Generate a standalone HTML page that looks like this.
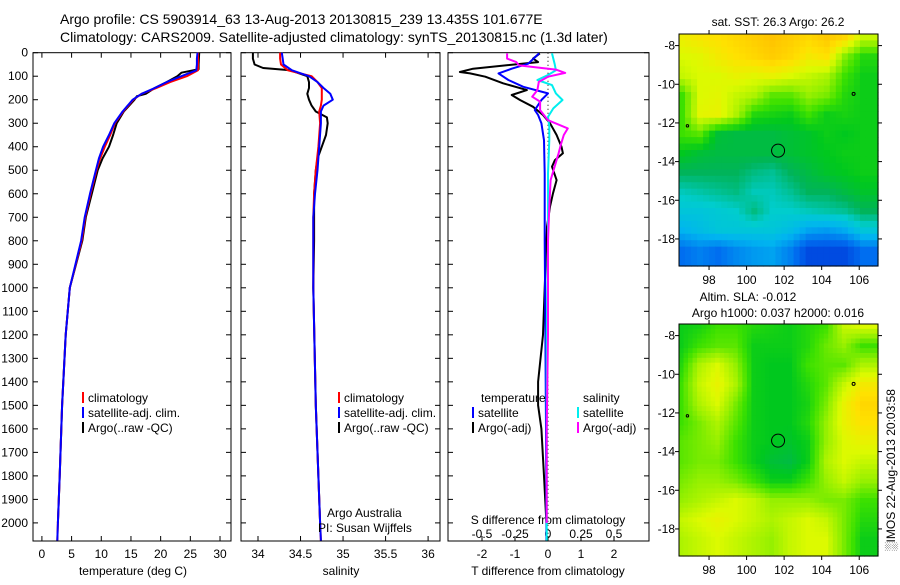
<!DOCTYPE html>
<html><head><meta charset="utf-8"><style>
body{margin:0;background:#fff}
svg text{font-family:"Liberation Sans",sans-serif;fill:#000}
</style></head><body>
<svg id="fig" width="900" height="580" xmlns="http://www.w3.org/2000/svg">
<rect width="900" height="580" fill="#fff"/>
<text x="60" y="24" font-size="14">Argo profile: CS 5903914_63 13-Aug-2013 20130815_239 13.435S 101.677E</text>
<text x="60" y="42" font-size="14">Climatology: CARS2009. Satellite-adjusted climatology: synTS_20130815.nc (1.3d later)</text>
<g id="g"></g>
</svg>
<script>
// ---- profile data ----
const depthT=[0,25,50,75,100,125,150,175,200,250,300,350,400,450,500,600,700,800,1000,1200,1500,1800,2000,2075];
const tempClim=[26.3,26.3,26.3,26.3,24.4,21.6,19.3,16.8,15.4,13.7,12.3,11.5,10.6,9.8,9.2,8.2,7.3,6.7,4.7,4.0,3.4,3.0,2.7,2.6];
const tempSat=[26.2,26.1,26.1,26.0,23.5,21.0,19.0,16.8,15.3,13.6,12.2,11.3,10.3,9.6,9.1,8.1,7.2,6.6,4.7,4.0,3.4,3.0,2.7,2.6];
const depthTA=[0,50,70,85,100,125,150,175,185,200,250,300,350,400,450,500,600,700,800,1000,1200,1500,1800,2000];
const tempArgo=[26.5,26.4,26.4,23.5,22.8,21.0,19.0,17.5,16.0,15.6,13.8,12.6,12.0,11.3,10.2,9.4,8.4,7.4,6.8,4.7,4.0,3.4,3.0,2.7];
const depthS=[0,25,50,75,100,125,150,175,200,225,250,300,400,500,600,700,1000,1500,2000,2075];
const salClim=[34.26,34.26,34.27,34.35,34.63,34.70,34.75,34.75,34.75,34.74,34.72,34.73,34.71,34.68,34.66,34.65,34.65,34.68,34.73,34.74];
const salSat=[34.28,34.29,34.30,34.40,34.60,34.70,34.77,34.85,34.88,34.77,34.74,34.74,34.72,34.70,34.67,34.65,34.65,34.68,34.73,34.74];
const depthSA=[0,25,50,65,75,100,125,150,175,200,225,250,275,300,350,400,450,500,600,700,800,1000,1500,2000];
const salArgo=[33.94,33.94,33.96,34.06,34.38,34.58,34.60,34.60,34.58,34.60,34.63,34.68,34.81,34.82,34.80,34.75,34.70,34.68,34.66,34.66,34.66,34.65,34.68,34.73];
// ---- difference data ----
const depthDT=[3,47,68,88,116,145,173,201,244,265,300,372,514,800,1200,1600,2000,2075];
const dTSat=[-0.27,-0.6,-1.1,-1.5,-1.2,-0.75,0,-0.2,-0.4,-0.3,-0.2,-0.12,-0.1,-0.1,-0.08,-0.06,-0.05,-0.05];
const depthDTA=[3,25,40,68,82,88,102,130,159,180,201,230,265,300,350,400,428,457,485,542,598,655,740,800,1000,1200,1400,1500,1600,1800,2000];
const dTArgo=[-0.25,-0.45,-0.3,-2.27,-2.67,-2.36,-1.9,-1.36,-0.64,-1.1,-0.85,-0.45,-0.15,0.06,0.26,0.41,0.45,0.21,0.12,0.26,0.15,0.06,-0.03,-0.05,-0.1,-0.15,-0.3,-0.3,-0.2,-0.12,-0.05];
const depthDS=[3,47,75,95,116,138,173,201,237,273,315,372,514,800,1200,1600,2000,2075];
const dSSat=[0.03,0.05,0.06,0,-0.08,0.03,0.06,0.11,0.04,0,0.01,0.01,0,0,-0.01,-0.01,-0.01,-0.01];
const depthDSA=[3,25,40,54,72,86,102,124,159,187,208,244,287,322,350,386,428,485,542,655,800,1200,1600,2000];
const dSArgo=[-0.31,-0.31,-0.24,-0.22,0.06,0.13,0,-0.07,-0.08,-0.12,-0.06,-0.06,0,0.15,0.12,0.1,0.08,0.05,0.02,0.01,0,0,-0.01,-0.01];
// ---- ticks ----
const depthTicks=[0,100,200,300,400,500,600,700,800,900,1000,1100,1200,1300,1400,1500,1600,1700,1800,1900,2000];
const tempTicks=[0,5,10,15,20,25,30];
const salTicks=[34,34.5,35,35.5,36];
const dTTicks=[-2,-1,0,1,2];
const dSTicks=[-0.5,-0.25,0,0.25,0.5];
const lonTicks=[98,100,102,104,106];
const latTicks=[-8,-10,-12,-14,-16,-18];
// ---- map fields (rows -8..-19 lat, cols 96.9..106.9 lon) ----
const sstField=[
[0.75,0.77,0.78,0.8,0.82,0.84,0.82,0.8,0.83,0.8,0.7],
[0.72,0.73,0.76,0.78,0.8,0.82,0.8,0.76,0.78,0.65,0.58],
[0.7,0.72,0.72,0.74,0.73,0.74,0.72,0.7,0.68,0.6,0.56],
[0.6,0.72,0.73,0.7,0.68,0.62,0.62,0.66,0.64,0.58,0.56],
[0.6,0.73,0.74,0.68,0.58,0.57,0.56,0.6,0.56,0.57,0.56],
[0.6,0.62,0.53,0.52,0.52,0.52,0.53,0.54,0.56,0.55,0.56],
[0.55,0.53,0.52,0.52,0.52,0.52,0.53,0.54,0.55,0.56,0.56],
[0.5,0.5,0.5,0.5,0.48,0.47,0.5,0.52,0.54,0.55,0.56],
[0.45,0.46,0.47,0.48,0.45,0.45,0.47,0.5,0.5,0.52,0.54],
[0.42,0.42,0.43,0.44,0.48,0.44,0.44,0.45,0.46,0.47,0.5],
[0.38,0.4,0.42,0.42,0.42,0.42,0.4,0.36,0.35,0.37,0.42],
[0.3,0.32,0.3,0.33,0.35,0.36,0.32,0.25,0.25,0.25,0.3]];
const slaField=[
[0.56,0.57,0.6,0.6,0.58,0.57,0.56,0.58,0.6,0.7,0.72],
[0.56,0.6,0.62,0.62,0.56,0.56,0.56,0.58,0.63,0.66,0.6],
[0.58,0.68,0.72,0.66,0.56,0.55,0.55,0.6,0.62,0.62,0.68],
[0.6,0.7,0.74,0.68,0.56,0.55,0.55,0.58,0.62,0.7,0.76],
[0.6,0.68,0.72,0.64,0.56,0.55,0.55,0.57,0.64,0.74,0.8],
[0.6,0.64,0.68,0.62,0.56,0.55,0.55,0.58,0.66,0.74,0.78],
[0.62,0.64,0.66,0.6,0.56,0.55,0.54,0.56,0.66,0.72,0.74],
[0.62,0.64,0.64,0.6,0.56,0.53,0.52,0.56,0.68,0.72,0.7],
[0.64,0.66,0.66,0.64,0.6,0.56,0.56,0.6,0.66,0.7,0.66],
[0.66,0.68,0.7,0.72,0.7,0.66,0.66,0.66,0.64,0.64,0.6],
[0.7,0.72,0.74,0.72,0.7,0.68,0.7,0.72,0.7,0.64,0.58],
[0.68,0.7,0.72,0.7,0.68,0.66,0.7,0.72,0.72,0.64,0.56]];
const argoLon=101.677, argoLat=-13.435;

const NS="http://www.w3.org/2000/svg";
const G=document.getElementById('g');
function el(tag,attrs,parent){const e=document.createElementNS(NS,tag);for(const k in attrs)e.setAttribute(k,attrs[k]);(parent||G).appendChild(e);return e;}
function lin(d0,d1,r0,r1){return v=>r0+(v-d0)*(r1-r0)/(d1-d0);}
const TOP=52.7,BOT=541;
const yD=lin(0,2077,TOP,BOT);
const panels=[{x0:33,x1:231},{x0:241,x1:440},{x0:448,x1:649}];
const xT=lin(-1.5,31.85,33,231);
const xS=lin(33.8,36.14,241,440);
const xDT=lin(0,1,548,581);
const xDS=lin(0,1,548,680);

function frame(p,name){
  const r=el('rect',{x:p.x0,y:TOP,width:p.x1-p.x0,height:BOT-TOP,fill:'none',stroke:'#000','stroke-width':1});
  
  depthTicks.forEach(d=>{const y=yD(d);
    el('line',{x1:p.x0,x2:p.x0+5,y1:y,y2:y,stroke:'#000'});
    el('line',{x1:p.x1,x2:p.x1-5,y1:y,y2:y,stroke:'#000'});});
}
function line(xs,ds,xf,color,name,w){
  const pts=xs.map((v,i)=>xf(v).toFixed(1)+','+yD(ds[i]).toFixed(1)).join(' ');
  const l=el('polyline',{points:pts,fill:'none',stroke:color,'stroke-width':w||2,'stroke-linejoin':'round'});
  
}
function text(x,y,s,size,anchor,name){const t=el('text',{x:x,y:y,'font-size':size||12,'text-anchor':anchor||'start'});t.textContent=s;
  return t;}
function xticks(p,ticks,xf,labelY,bothEdges,name){
  ticks.forEach(v=>{const x=xf(v);
    el('line',{x1:x,x2:x,y1:BOT,y2:BOT-5,stroke:'#000'});
    if(bothEdges)el('line',{x1:x,x2:x,y1:TOP,y2:TOP+5,stroke:'#000'});
    text(x,labelY,String(v),12,'middle',name);});
}
depthTicks.forEach(d=>text(28,yD(d)+4,String(d),12,'end','depth-tick-label'));
frame(panels[0],'temperature-panel');frame(panels[1],'salinity-panel');frame(panels[2],'difference-panel');
xticks(panels[0],tempTicks,xT,558,true,'temperature-tick-label');
xticks(panels[1],salTicks,xS,558,true,'salinity-tick-label');
xticks(panels[2],dTTicks,xDT,558,false,'tdiff-tick-label');
dSTicks.forEach(v=>text(xDS(v),538,String(v),12,'middle','sdiff-tick-label'));
text(133,575,'temperature (deg C)',12,'middle','temperature-axis-title');
text(341,575,'salinity',12,'middle','salinity-axis-title');
text(548,575,'T difference from climatology',12,'middle','tdiff-axis-title');
text(548,524,'S difference from climatology',12,'middle','sdiff-axis-title');
const z=el('line',{x1:xDT(0),x2:xDT(0),y1:TOP,y2:BOT,stroke:'#000','stroke-dasharray':'1,3'});

line(tempArgo,depthTA,xT,'#000','temp-argo-line');
line(tempClim,depthT,xT,'#f00','temp-clim-line');
line(tempSat,depthT,xT,'#00f','temp-sat-line');
line(salArgo,depthSA,xS,'#000','sal-argo-line');
line(salClim,depthS,xS,'#f00','sal-clim-line');
line(salSat,depthS,xS,'#00f','sal-sat-line');
line(dTArgo,depthDTA,xDT,'#000','tdiff-argo-line');
line(dTSat,depthDT,xDT,'#00f','tdiff-sat-line');
line(dSSat,depthDS,xDS,'#0ee','sdiff-sat-line');
line(dSArgo,depthDSA,xDS,'#f0f','sdiff-argo-line');
function leg(x,y,color,label,name){
  if(color){const m=el('line',{x1:x,x2:x,y1:y-10,y2:y+1,stroke:color,'stroke-width':2});}
  text(x+5,y,label,12,'start',name);
}
leg(83,402,'#f00','climatology','legend-climatology');
leg(83,417,'#00f','satellite-adj. clim.','legend-satellite');
leg(83,432,'#000','Argo(..raw -QC)','legend-argo');
leg(339,402,'#f00','climatology','legend-climatology-2');
leg(339,417,'#00f','satellite-adj. clim.','legend-satellite-2');
leg(339,432,'#000','Argo(..raw -QC)','legend-argo-2');
text(481,402,'temperature',12,'start','legend-temperature-header');
leg(473,417,'#00f','satellite','legend-t-satellite');
leg(473,432,'#000','Argo(-adj)','legend-t-argo');
text(583,402,'salinity',12,'start','legend-salinity-header');
leg(578,417,'#0ee','satellite','legend-s-satellite');
leg(578,432,'#f0f','Argo(-adj)','legend-s-argo');
text(327,517,'Argo Australia',12,'start','credit-argo-australia');
text(318,532,'PI: Susan Wijffels',12,'start','credit-pi');

const stops=[[0.2,[0,40,210]],[0.3,[0,110,240]],[0.38,[0,180,240]],[0.44,[0,205,205]],[0.5,[0,180,90]],[0.55,[0,200,30]],[0.6,[60,225,0]],[0.66,[150,240,0]],[0.72,[220,250,0]],[0.78,[255,225,0]],[0.85,[255,190,0]],[1,[255,120,0]]];
function cmap(v){for(let i=1;i<stops.length;i++){if(v<=stops[i][0]){const a=stops[i-1],b=stops[i];const t=Math.max(0,(v-a[0])/(b[0]-a[0]));
  return 'rgb('+a[1].map((c,k)=>Math.round(c+(b[1][k]-c)*t)).join(',')+')';}}return 'rgb(255,120,0)';}
function drawMap(y0,y1,field,name,sub){
  const X0=679,X1=878;
  const xL=lin(96.4,107.0,X0,X1), yL=lin(-7.4,-19.4,y0,y1);
  const g=el('g',{});
  const R=field.length,C=field[0].length,f=sub;
  for(let i=0;i<(R-1)*f+f;i++)for(let j=0;j<(C-1)*f+f;j++){
    const fi=Math.min(i/f,R-1),fj=Math.min(j/f,C-1);const i0=Math.floor(fi),j0=Math.floor(fj),i1=Math.min(i0+1,R-1),j1=Math.min(j0+1,C-1);
    const a=fi-i0,b=fj-j0;
    const v=field[i0][j0]*(1-a)*(1-b)+field[i0][j1]*(1-a)*b+field[i1][j0]*a*(1-b)+field[i1][j1]*a*b;
    const lat0=-7.4-(i*12/(R*f)),lat1=-7.4-((i+1)*12/(R*f));
    const lon0=96.4+j*10.6/(C*f),lon1=96.4+(j+1)*10.6/(C*f);
    const r=el('rect',{x:xL(lon0),y:yL(lat0),width:xL(lon1)-xL(lon0)+0.6,height:yL(lat1)-yL(lat0)+0.6,fill:cmap(v)},g);
    
  }
  el('rect',{x:X0,y:y0,width:X1-X0,height:y1-y0,fill:'none',stroke:'#000'});
  lonTicks.forEach(v=>{const x=xL(v);el('line',{x1:x,x2:x,y1:y0,y2:y0-4,stroke:'#000'});el('line',{x1:x,x2:x,y1:y1,y2:y1+4,stroke:'#000'});
    text(x,y1+18,String(v),12,'middle','lon-tick-label');});
  latTicks.forEach(v=>{const y=yL(v);el('line',{x1:X0,x2:X0-4,y1:y,y2:y,stroke:'#000'});el('line',{x1:X1,x2:X1+4,y1:y,y2:y,stroke:'#000'});
    text(675,y+4,String(v),12,'end','lat-tick-label');});
  const c=el('circle',{cx:xL(argoLon),cy:yL(argoLat),r:6.5,fill:'none',stroke:'#000'});
  
  el('circle',{cx:xL(105.7),cy:yL(-10.5),r:1.5,fill:'none',stroke:'#000'});
  el('circle',{cx:xL(96.85),cy:yL(-12.15),r:1.2,fill:'none',stroke:'#000'});
}
drawMap(34,266,sstField,'sst-map',3);
drawMap(324,556,slaField,'sla-map',4);
text(778,26,'sat. SST: 26.3 Argo: 26.2',12,'middle','sst-map-title');
text(748,301,'Altim. SLA: -0.012',12,'middle','sla-map-title');
text(778,317,'Argo h1000: 0.037 h2000: 0.016',12,'middle','sla-map-subtitle');
const rt=text(0,0,'\u2591IMOS 22-Aug-2013 20:03:58',12,'middle','timestamp');
rt.setAttribute('transform','translate(895,470) rotate(-90)');
</script>
</body></html>
